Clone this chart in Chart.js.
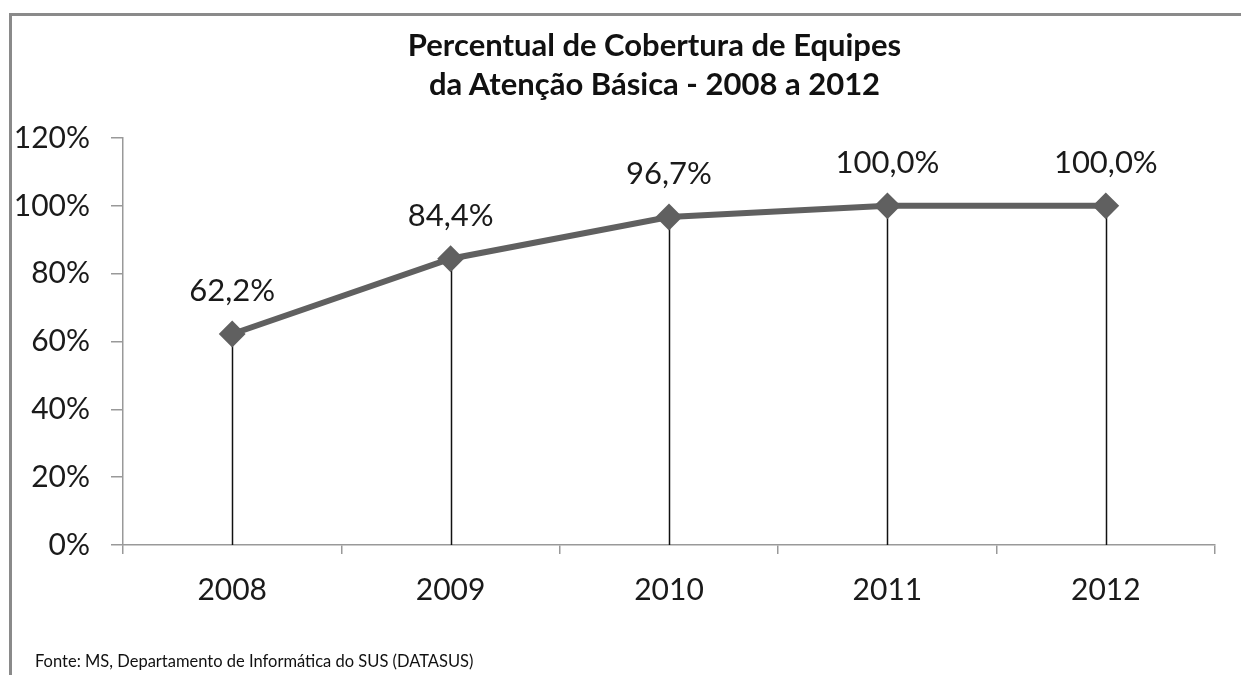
<!DOCTYPE html>
<html>
<head>
<meta charset="utf-8">
<script src="https://cdn.jsdelivr.net/npm/chart.js@4.4.1/dist/chart.umd.min.js"></script>
<style>
  html, body { margin: 0; padding: 0; background: #fff; }
  #wrap { position: relative; width: 1241px; height: 675px; overflow: hidden; background: #fff; }
  #frame { position: absolute; left: 9px; top: 13px; width: 1300px; height: 700px;
           border-top: 3px solid #8a8a8a; border-left: 3px solid #8a8a8a; box-sizing: border-box; }
  #title { position: absolute; left: 0; width: 1309px; top: 25px; text-align: center;
           font-family: Lato, "Open Sans", sans-serif; font-weight: bold; font-size: 31px;
           line-height: 39px; color: #111; }
  #note { position: absolute; left: 35px; top: 651px; font-family: Lato, "Open Sans", sans-serif;
          font-size: 16.5px; line-height: 20px; color: #111; }
  canvas { position: absolute; left: 0; top: 0; }
</style>
</head>
<body>
<div id="wrap">
  <div id="frame"></div>
  <canvas id="c" width="1241" height="675"></canvas>
  <div id="title">Percentual de Cobertura de Equipes<br>da Atenção Básica - 2008 a 2012</div>
  <div id="note">Fonte: MS, Departamento de Informática do SUS (DATASUS)</div>
</div>
<script>
const years = ["2008", "2009", "2010", "2011", "2012"];
const coverage = [0.622, 0.844, 0.967, 1.0, 1.0];
const coverageLabels = ["62,2%", "84,4%", "96,7%", "100,0%", "100,0%"];
const yTicks = [0, 0.2, 0.4, 0.6, 0.8, 1.0, 1.2];

const FONT = 'Lato, "Open Sans", sans-serif';

const dropLines = {
  id: 'dropLines',
  beforeDatasetsDraw(chart) {
    const ctx = chart.ctx;
    const x = chart.scales.x, y = chart.scales.y;
    ctx.save();
    ctx.strokeStyle = '#111';
    ctx.lineWidth = 1.5;
    coverage.forEach((v, i) => {
      const px = Math.round(x.getPixelForValue(i)) + 0.5;
      ctx.beginPath();
      ctx.moveTo(px, y.getPixelForValue(v));
      ctx.lineTo(px, y.getPixelForValue(0));
      ctx.stroke();
    });
    ctx.restore();
  },
  afterDatasetsDraw(chart) {
    const ctx = chart.ctx;
    const x = chart.scales.x, y = chart.scales.y;
    ctx.save();
    ctx.font = '31px ' + FONT;
    ctx.fillStyle = '#1a1a1a';
    ctx.textAlign = 'center';
    ctx.textBaseline = 'middle';
    coverage.forEach((v, i) => {
      ctx.fillText(coverageLabels[i], x.getPixelForValue(i), y.getPixelForValue(v) - 43);
    });
    ctx.restore();
  }
};

new Chart(document.getElementById('c'), {
  type: 'line',
  data: {
    labels: years,
    datasets: [{
      data: coverage,
      borderColor: '#606060',
      backgroundColor: '#606060',
      borderWidth: 6,
      pointStyle: 'rectRot',
      pointRadius: 12,
      pointBorderWidth: 2,
      pointBackgroundColor: '#606060',
      pointBorderColor: '#606060',
      tension: 0
    }]
  },
  options: {
    responsive: false,
    animation: false,
    devicePixelRatio: 1,
    layout: { padding: { top: 138, right: 26, bottom: 0, left: 0 } },
    plugins: { legend: { display: false }, title: { display: false }, tooltip: { enabled: false } },
    scales: {
      x: {
        type: 'category',
        offset: true,
        grid: { offset: true, drawOnChartArea: false, drawTicks: true, tickLength: 9, color: '#999', lineWidth: 1.5 },
        border: { color: '#999', width: 1.5 },
        ticks: { font: { family: FONT, size: 30 }, color: '#1a1a1a', padding: 18 },
        afterFit(s) { s.height = 130; }
      },
      y: {
        min: 0, max: 1.2,
        afterBuildTicks(s) { s.ticks = yTicks.map(v => ({ value: v })); },
        grid: { drawOnChartArea: false, drawTicks: true, tickLength: 12, color: '#999', lineWidth: 1.5 },
        border: { color: '#999', width: 1.5 },
        ticks: {
          font: { family: FONT, size: 30 }, color: '#1a1a1a', padding: 21,
          callback: v => Math.round(v * 100) + '%'
        },
        afterFit(s) { s.width = 123; }
      }
    }
  },
  plugins: [dropLines]
});
</script>
</body>
</html>
